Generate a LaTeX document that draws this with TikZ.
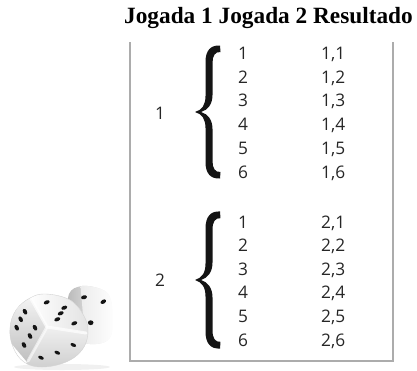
\documentclass[tikz,border=0pt]{standalone}
\usepackage{fontspec}
\setmainfont{Liberation Serif}
\newfontfamily\digitfont{Open Sans}
\begin{document}
\begin{tikzpicture}[x=1pt,y=-1pt,
  frame/.style={draw=gray!65, line width=1.5pt},
  heading/.style={font=\fontsize{23.3}{28}\selectfont\bfseries, inner sep=0pt, anchor=base},
  num/.style={font=\digitfont\fontsize{17.3}{20}\selectfont, text=black!85, inner sep=0pt, anchor=base west},
  rootnum/.style={font=\digitfont\fontsize{17.3}{20}\selectfont, text=black!85, inner sep=0pt, anchor=center},
  bracefill/.style={fill=black!92},
  pip/.style={fill=black!92},
]
\useasboundingbox (0,0) rectangle (417,370);

% curly brace: tip x, tip y, half height
\newcommand\drawbrace[3]{%
  \fill[bracefill, shift={(#1,#2)}, yscale=#3/65]
    (0,0) .. controls (7,-2) and (10.5,-7) .. (10.5,-16)
    -- (10.5,-50) .. controls (10.5,-62) and (16,-67) .. (25,-66.5)
    -- (25.5,-60) .. controls (20,-60.5) and (17.5,-56) .. (17.5,-49)
    -- (17.5,-17) .. controls (17.5,-8) and (13,-2) .. (6,0)
    .. controls (13,2) and (17.5,8) .. (17.5,17)
    -- (17.5,49) .. controls (17.5,56) and (20,60.5) .. (25.5,60)
    -- (25,66.5) .. controls (16,67) and (10.5,62) .. (10.5,50)
    -- (10.5,16) .. controls (10.5,7) and (7,2) .. (0,0) -- cycle;}

% heading
\node[heading] (title) at (268.5,23) {Jogada 1 Jogada 2 Resultado};

% open-topped frame
\draw[frame] (130,42) -- (130,361) -- (393,361) -- (393,42);

% first throw = 1
\node[rootnum] (r1) at (160,113.3) {1};
\drawbrace{195}{112}{65}
\foreach \k in {1,...,6}{
  \pgfmathsetmacro\yy{59.3+23.8*(\k-1)}
  \node[num] (a\k) at (238,\yy) {\k};
  \node[num] (ra\k) at (321,\yy) {1,\k};
}

% first throw = 2
\node[rootnum] (r2) at (160,280) {2};
\drawbrace{195}{280}{67}
\foreach \k in {1,...,6}{
  \pgfmathsetmacro\yy{228+23.6*(\k-1)}
  \node[num] (b\k) at (238,\yy) {\k};
  \node[num] (rb\k) at (321,\yy) {2,\k};
}

% dice: soft shadow
\fill[gray!12] (62,367) ellipse (48 and 3);

% back die
\def\backdie{plot[smooth cycle, tension=0.6] coordinates {(69,294) (82,286) (101,289) (110,297) (113,315) (112,333) (105,342) (90,344) (78,339) (69,320)}}
\shade[left color=gray!55, right color=white, shading angle=90] \backdie;
\begin{scope}
  \clip \backdie;
  \shade[left color=gray!15, right color=white] (80,280) -- (116,280) -- (116,350) -- (86,350) -- cycle;
\end{scope}
\fill[pip] (84,297.3) ellipse[x radius=3, y radius=2, rotate=15];
\fill[pip] (103.3,301.7) ellipse[x radius=3, y radius=2, rotate=30];
\fill[pip] (90.7,322.7) ellipse[x radius=2.8, y radius=2.4];

% front die
\def\frontdie{plot[smooth cycle, tension=0.65] coordinates {(30,298) (46,294) (70,300) (84,316) (88,333) (82,350) (66,362) (42,367) (24,362) (13,347) (10,328) (16,310)}}
\fill[white] \frontdie;
\begin{scope}
  \clip \frontdie;
  % left face (six)
  \shade[bottom color=gray!50, top color=gray!8] (29,295) -- (47,327) -- (27,362) -- (0,330) -- cycle;
  % upper face (five)
  \shade[left color=white, right color=gray!25] (29,295) -- (60,282) -- (96,322) -- (88,333) -- (47,327) -- cycle;
  % lower face (three)
  \shade[top color=gray!12, bottom color=gray!45] (47,327) -- (88,333) -- (95,380) -- (20,380) -- (27,362) -- cycle;
  % rounded edges
  \draw[white, line width=3pt, opacity=0.7, line cap=round] (30,297) -- (47,327) -- (86,333);
  \draw[white, line width=3pt, opacity=0.6, line cap=round] (47,327) -- (28,361);
\end{scope}
\draw[gray!35, line width=0.4pt] \frontdie;
% six
\foreach \p in {(25,311.7),(20.7,319.3),(16.7,327.7),(35,327.7),(30,336),(24,345)}
  \fill[pip] \p ellipse[x radius=3.1, y radius=2, rotate=-62];
% five
\foreach \p in {(46.7,302.3),(64.3,307.7),(60.7,313.3),(57.3,319.3),(74.3,323.3)}
  \fill[pip] \p ellipse[x radius=3.1, y radius=1.9, rotate=22];
% three
\foreach \p in {(41,357.7),(57.3,352.7),(73.3,345)}
  \fill[pip] \p ellipse[x radius=3, y radius=1.7, rotate=-25];
\end{tikzpicture}
\end{document}
